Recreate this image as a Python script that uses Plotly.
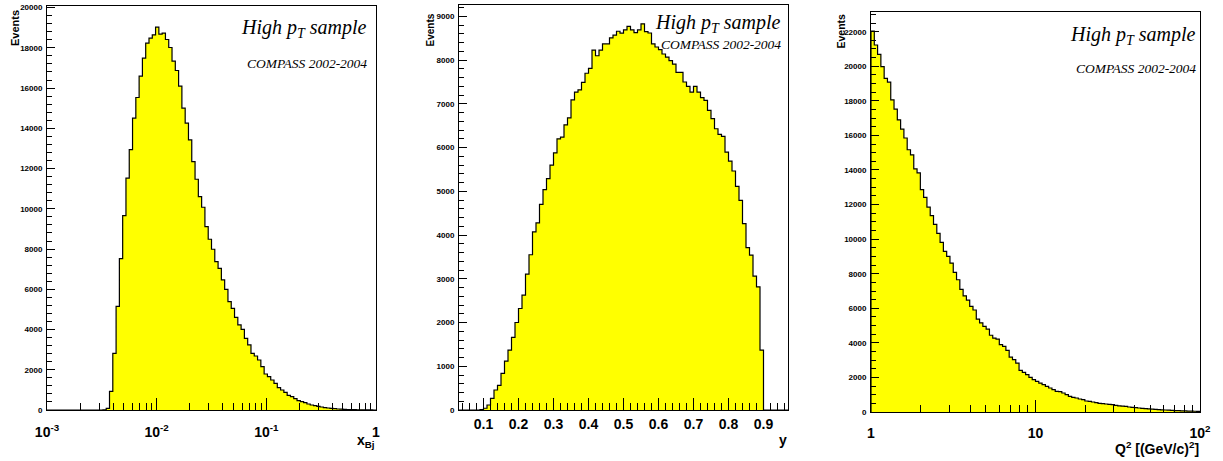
import numpy as np
import plotly.graph_objects as go

W, H = 1223, 461

# ---------------- data ----------------
# Panel 1: x_Bj, 100 logarithmic bins from 1e-3 to 1
xbj_log_min, xbj_log_max, xbj_nbins = -3.0, 0.0, 100
xbj_counts = [0] * 17 + [
    10, 80, 930, 2818, 5155, 7525, 9663, 11520, 12945, 14503,
    15531, 16592, 17487, 18232, 18480, 18647, 19028, 18680, 18730, 18415,
    18017, 17337, 16873, 16094, 15000, 14254, 13426, 12348, 11470, 10608,
    10078, 9116, 8486, 7989, 7376, 7044, 6464, 6000, 5387, 5055,
    4608, 4227, 4011, 3564, 3232, 2818, 2685, 2486, 2155, 1790,
    1658, 1492, 1326, 1110, 995, 878, 729, 663, 564, 464,
    414, 365, 298, 249, 215, 182, 149, 116, 99, 83,
    66, 50, 40, 30, 25, 20, 15, 10, 8, 6,
    4, 2, 1]

# Panel 2: y, bins of width 0.01 from 0.03 to 0.97
y_bin_min, y_bin_width, y_nbins = 0.03, 0.01, 94
y_counts = [0] * 6 + [
    8, 40, 114, 266, 457, 563, 837, 1119, 1370, 1659,
    2001, 2321, 2625, 3105, 3550, 4071, 4277, 4703, 5038, 5289,
    5600, 5880, 6200, 6240, 6520, 6680, 7090, 7270, 7320, 7490,
    7700, 7810, 8230, 8100, 8230, 8370, 8370, 8510, 8570, 8660,
    8615, 8690, 8770, 8690, 8630, 8690, 8830, 8650, 8620, 8370,
    8300, 8240, 8140, 8070, 7990, 7910, 7720, 7720, 7500, 7400,
    7270, 7400, 7270, 7140, 7080, 6850, 6660, 6430, 6301, 6255,
    5898, 5692, 5464, 5114, 4794, 4262, 3714, 3539, 3059, 2816,
    1370] + [0] * 7

# Panel 3: Q2, 100 logarithmic bins from 1 to 100
q2_log_min, q2_log_max, q2_nbins = 0.0, 2.0, 100
q2_counts = [
    22040, 21230, 20690, 19980, 19300, 19080, 18060, 17520, 16900, 16360,
    15850, 15170, 14880, 14060, 13830, 12860, 12420, 11850, 11360, 10850,
    10330, 9808, 9288, 9000, 8614, 8074, 7650, 7090, 6720, 6470,
    6109, 5900, 5376, 5160, 4950, 4800, 4440, 4278, 4220, 3893,
    3796, 3565, 3180, 3025, 2833, 2409, 2293, 2158, 2004, 1869,
    1773, 1676, 1580, 1484, 1387, 1291, 1195, 1180, 1098, 1002,
    906, 848, 809, 752, 713, 636, 617, 578, 540, 501,
    482, 462, 443, 424, 385, 360, 340, 320, 290, 270,
    250, 230, 210, 195, 180, 165, 150, 140, 128, 116,
    105, 95, 85, 77, 70, 62, 55, 48, 42, 36]

# axis tick labels
xbj_tickvals = [1e-3, 1e-2, 1e-1, 1]
xbj_ticktext = ["10<sup>-3</sup>", "10<sup>-2</sup>", "10<sup>-1</sup>", "1"]
y_tickvals = [0.1, 0.2, 0.3, 0.4, 0.5, 0.6, 0.7, 0.8, 0.9]
y_ticktext = ["0.1", "0.2", "0.3", "0.4", "0.5", "0.6", "0.7", "0.8", "0.9"]
q2_tickvals = [1, 10, 100]
q2_ticktext = ["1", "10", "10<sup>2</sup>"]
events1_ticks = list(range(0, 20001, 2000))
events2_ticks = list(range(0, 9001, 1000))
events3_ticks = list(range(0, 22001, 2000))

# ---------------- helpers ----------------
def px(x):
    return x / W

def py(y):
    return 1 - y / H

def step_xy(edges, counts):
    xs = [edges[0]] + list(edges[:-1]) + [edges[-1]]
    ys = [0] + list(counts) + [0]
    return xs, ys

xbj_edges = 10 ** np.linspace(xbj_log_min, xbj_log_max, xbj_nbins + 1)
y_edges = np.round(y_bin_min + y_bin_width * np.arange(y_nbins + 1), 4)
q2_edges = 10 ** np.linspace(q2_log_min, q2_log_max, q2_nbins + 1)

fig = go.Figure()
for (edges, counts, xa, ya) in [
    (xbj_edges, xbj_counts, "x", "y"),
    (y_edges, y_counts, "x2", "y2"),
    (q2_edges, q2_counts, "x3", "y3"),
]:
    xs, ys = step_xy(edges, counts)
    fig.add_trace(go.Scatter(
        x=xs, y=ys, xaxis=xa, yaxis=ya, mode="lines",
        line=dict(shape="hv", color="black", width=1.2),
        fill="tozeroy", fillcolor="#ffff00", showlegend=False,
        hoverinfo="skip"))

tickfont_y = dict(family="Liberation Sans", size=8, color="black", weight="bold")
tickfont_x = dict(family="Liberation Sans", size=14, color="black", weight="bold")

def log_minor(lo, hi):
    vals = []
    for d in range(lo, hi):
        for m in range(2, 10):
            vals.append(m * 10 ** d)
    return vals

common_x = dict(showline=True, mirror=True, linecolor="black", linewidth=1,
                ticks="inside", ticklen=12, tickwidth=1, tickcolor="black",
                showgrid=False, zeroline=False, tickfont=tickfont_x,
                automargin=False)
common_y = dict(showline=True, mirror=True, linecolor="black", linewidth=1,
                ticks="inside", ticklen=8, tickwidth=1, tickcolor="black",
                showgrid=False, zeroline=False, tickfont=tickfont_y,
                tickmode="array", ticklabelstandoff=2, automargin=False)

p1 = (47, 376, 6, 410)
p2 = (459, 788, 5, 410)
p3 = (871, 1200, 12, 412)

fig.update_layout(
    width=W, height=H, margin=dict(l=0, r=0, t=0, b=0, autoexpand=False),
    paper_bgcolor="white", plot_bgcolor="white", showlegend=False,
    xaxis=dict(common_x, type="log", range=[-3, 0], domain=[px(p1[0]), px(p1[1])],
               anchor="y", tickmode="array", tickvals=xbj_tickvals, ticktext=xbj_ticktext,
               ticklabelstandoff=9,
               minor=dict(ticks="inside", ticklen=7, tickcolor="black",
                          tickmode="array", tickvals=log_minor(-3, 0))),
    yaxis=dict(common_y, range=[0, 20080], domain=[py(p1[3]), py(p1[2])], anchor="x",
               tickvals=events1_ticks, ticktext=[str(v) for v in events1_ticks],
               minor=dict(ticks="inside", ticklen=5, tickcolor="black", dtick=400, tick0=0)),
    xaxis2=dict(common_x, range=[0.03, 0.97], domain=[px(p2[0]), px(p2[1])],
                anchor="y2", tickmode="array", tickvals=y_tickvals, ticktext=y_ticktext,
                ticklabelstandoff=1,
                minor=dict(ticks="inside", ticklen=7, tickcolor="black", dtick=0.02, tick0=0)),
    yaxis2=dict(common_y, range=[0, 9260], domain=[py(p2[3]), py(p2[2])], anchor="x2",
                tickvals=events2_ticks, ticktext=[str(v) for v in events2_ticks],
                minor=dict(ticks="inside", ticklen=5, tickcolor="black", dtick=200, tick0=0)),
    xaxis3=dict(common_x, type="log", range=[0, 2], domain=[px(p3[0]), px(p3[1])],
                anchor="y3", tickmode="array", tickvals=q2_tickvals, ticktext=q2_ticktext,
                ticklabelstandoff=8,
                minor=dict(ticks="inside", ticklen=7, tickcolor="black",
                           tickmode="array", tickvals=log_minor(0, 2))),
    yaxis3=dict(common_y, range=[0, 23140], domain=[py(p3[3]), py(p3[2])], anchor="x3",
                tickvals=events3_ticks, ticktext=[str(v) for v in events3_ticks],
                minor=dict(ticks="inside", ticklen=5, tickcolor="black", dtick=500, tick0=0)),
)

ann = []
bold = dict(family="Liberation Sans", color="black", weight="bold")
serif = dict(family="Liberation Serif", color="black", style="italic")

# y titles
for (xc, ytop, size) in [(15, 8, 11), (430, 12, 10), (841, 12, 10.5)]:
    ann.append(dict(text="Events", x=px(xc), y=py(ytop), xref="paper", yref="paper",
                    xanchor="center", yanchor="top", textangle=-90, showarrow=False,
                    font=dict(bold, size=size)))
# x titles
ann.append(dict(text="x<sub>Bj</sub>", x=px(377), y=py(430), xref="paper", yref="paper",
                xanchor="right", yanchor="top", showarrow=False, font=dict(bold, size=14)))
ann.append(dict(text="y", x=px(789), y=py(430), xref="paper", yref="paper",
                xanchor="right", yanchor="top", showarrow=False, font=dict(bold, size=14)))
ann.append(dict(text="Q<sup>2</sup> [(GeV/c)<sup>2</sup>]", x=px(1201), y=py(437),
                xref="paper", yref="paper", xanchor="right", yanchor="top",
                showarrow=False, font=dict(bold, size=14)))
# labels
for (xr, yt1, yt2) in [(369, 14, 53.7), (783, 9, 35.3), (1198, 21, 58.7)]:
    ann.append(dict(text="High p<sub>T</sub> sample", x=px(xr), y=py(yt1),
                    xref="paper", yref="paper", xanchor="right", yanchor="top",
                    showarrow=False, font=dict(serif, size=20)))
    ann.append(dict(text="COMPASS 2002-2004", x=px(xr), y=py(yt2),
                    xref="paper", yref="paper", xanchor="right", yanchor="top",
                    showarrow=False, font=dict(serif, size=13.5)))

fig.update_layout(annotations=ann)
fig.write_html("out.html", config={"displayModeBar": False},
               post_script="document.body.style.margin='0';document.body.style.padding='0';")
